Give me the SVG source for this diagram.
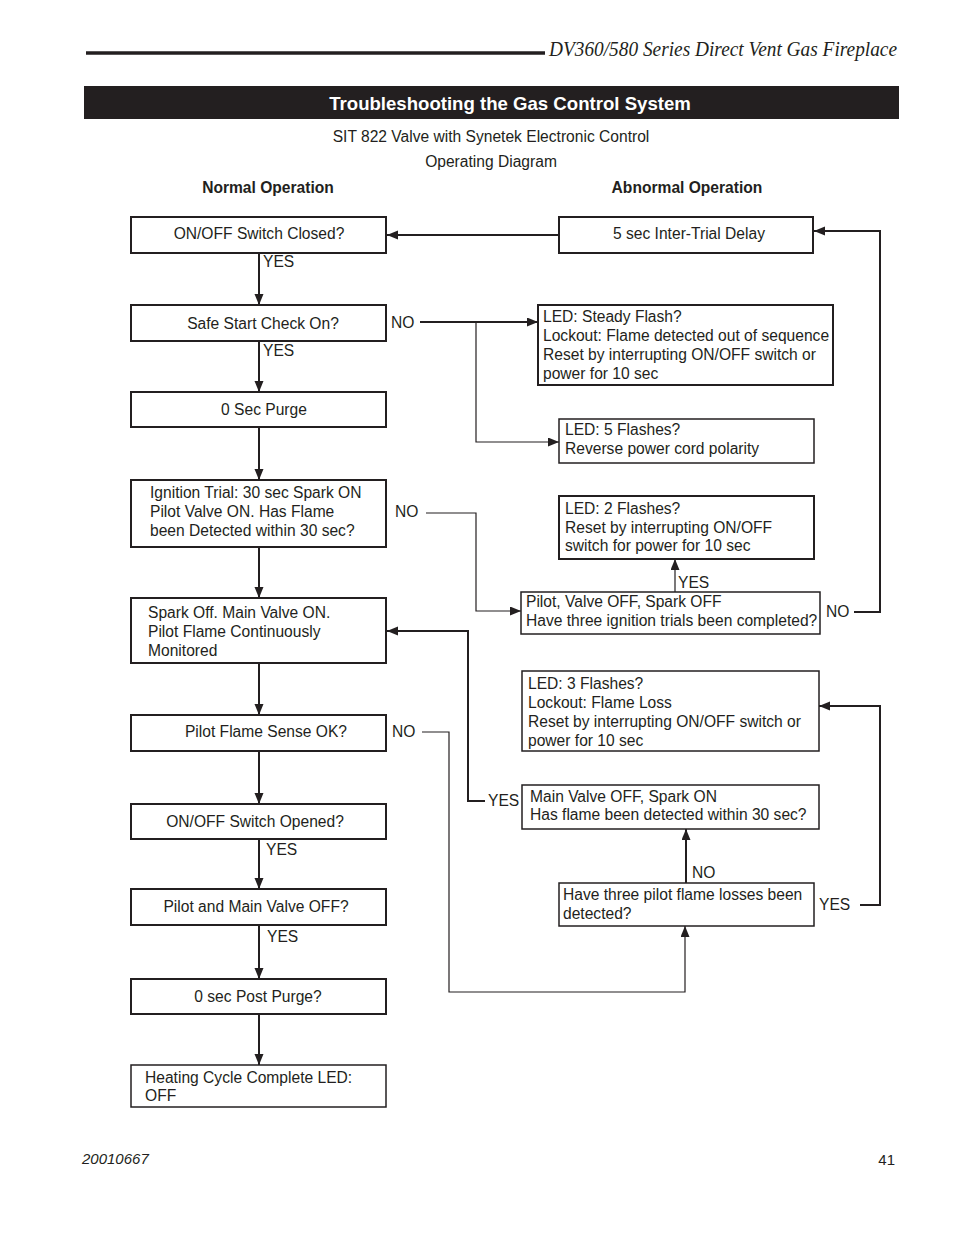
<svg xmlns="http://www.w3.org/2000/svg" width="954" height="1235" viewBox="0 0 954 1235">
<style>
text{font-family:"Liberation Sans",Arial,sans-serif;font-size:15.6px;fill:#231f20}
.c{text-anchor:middle}
.b{font-weight:bold}
.box{fill:#fff;stroke:#231f20;stroke-width:2}
.tb{fill:#fff;stroke:#231f20;stroke-width:1.5}
.ln{fill:none;stroke:#231f20;stroke-width:2}
.tl{fill:none;stroke:#231f20;stroke-width:1.2}
</style>
<defs>
<marker id="ah" markerUnits="userSpaceOnUse" markerWidth="12" markerHeight="10" refX="11" refY="4.5" orient="auto">
<path d="M0,0 L11,4.5 L0,9 Z" fill="#231f20"/>
</marker>
</defs>
<rect width="954" height="1235" fill="#fff"/>
<g id="header">
<line x1="86" y1="53" x2="545" y2="53" stroke="#231f20" stroke-width="3.5"/>
<text x="549" y="56" textLength="348" lengthAdjust="spacingAndGlyphs" style="font-family:'Liberation Serif',serif;font-style:italic;font-size:21px">DV360/580 Series Direct Vent Gas Fireplace</text>
<rect x="84" y="86" width="815" height="33" fill="#231f20"/>
<text x="510" y="110" class="c b" style="fill:#fff;font-size:18.6px">Troubleshooting the Gas Control System</text>
<text x="491" y="142" class="c">SIT 822 Valve with Synetek Electronic Control</text>
<text x="491" y="167" class="c">Operating Diagram</text>
<text x="268" y="193" class="c b">Normal Operation</text>
<text x="687" y="193" class="c b">Abnormal Operation</text>
</g>
<g id="connectors">
<line class="ln" x1="259" y1="253" x2="259" y2="305" marker-end="url(#ah)"/>
<line class="ln" x1="259" y1="341" x2="259" y2="392" marker-end="url(#ah)"/>
<line class="ln" x1="259" y1="427" x2="259" y2="480" marker-end="url(#ah)"/>
<line class="ln" x1="259" y1="547" x2="259" y2="598" marker-end="url(#ah)"/>
<line class="ln" x1="259" y1="663" x2="259" y2="715" marker-end="url(#ah)"/>
<line class="ln" x1="259" y1="751" x2="259" y2="804" marker-end="url(#ah)"/>
<line class="ln" x1="259" y1="839" x2="259" y2="889" marker-end="url(#ah)"/>
<line class="ln" x1="259" y1="925" x2="259" y2="979" marker-end="url(#ah)"/>
<line class="ln" x1="259" y1="1014" x2="259" y2="1065" marker-end="url(#ah)"/>
<line class="ln" x1="559" y1="235" x2="387" y2="235" marker-end="url(#ah)"/>
<line class="ln" x1="420" y1="322" x2="538" y2="322" marker-end="url(#ah)"/>
<polyline class="tl" points="476,322 476,442 559,442" marker-end="url(#ah)"/>
<polyline class="tl" points="426,513 476,513 476,611 521,611" marker-end="url(#ah)"/>
<line class="tl" x1="675" y1="592" x2="675" y2="559" marker-end="url(#ah)"/>
<polyline class="ln" points="854,612 880,612 880,231 814,231" marker-end="url(#ah)"/>
<polyline class="tl" points="422,732 449,732 449,992 685,992 685,926" marker-end="url(#ah)"/>
<line class="ln" x1="686" y1="883" x2="686" y2="829" marker-end="url(#ah)"/>
<polyline class="ln" points="860,905 880,905 880,706 819,706" marker-end="url(#ah)"/>
<polyline class="ln" points="485,801 468,801 468,631 387,631" marker-end="url(#ah)"/>
<text x="263" y="267">YES</text>
<text x="263" y="356">YES</text>
<text x="266" y="855">YES</text>
<text x="267" y="942">YES</text>
<text x="391" y="328">NO</text>
<text x="395" y="517">NO</text>
<text x="392" y="737">NO</text>
<text x="678" y="588">YES</text>
<text x="826" y="617">NO</text>
<text x="692" y="878">NO</text>
<text x="819" y="910">YES</text>
<text x="488" y="806">YES</text>
</g>
<g id="n1"><rect class="box" x="131" y="217" width="255" height="36"/><text x="259" y="239" class="c">ON/OFF Switch Closed?</text></g>
<g id="n2"><rect class="box" x="131" y="305" width="255" height="36"/><text x="263" y="329" class="c">Safe Start Check On?</text></g>
<g id="n3"><rect class="box" x="131" y="392" width="255" height="35"/><text x="264" y="415" class="c">0 Sec Purge</text></g>
<g id="n4"><rect class="box" x="131" y="480" width="255" height="67"/><text x="150" y="498">Ignition Trial: 30 sec Spark ON</text><text x="150" y="517">Pilot Valve ON. Has Flame</text><text x="150" y="536">been Detected within 30 sec?</text></g>
<g id="n5"><rect class="box" x="131" y="598" width="255" height="65"/><text x="148" y="618">Spark Off. Main Valve ON.</text><text x="148" y="637">Pilot Flame Continuously</text><text x="148" y="656">Monitored</text></g>
<g id="n6"><rect class="box" x="131" y="715" width="255" height="36"/><text x="266" y="737" class="c">Pilot Flame Sense OK?</text></g>
<g id="n7"><rect class="box" x="131" y="804" width="255" height="35"/><text x="255" y="827" class="c">ON/OFF Switch Opened?</text></g>
<g id="n8"><rect class="box" x="131" y="889" width="255" height="36"/><text x="256" y="912" class="c">Pilot and Main Valve OFF?</text></g>
<g id="n9"><rect class="box" x="131" y="979" width="255" height="35"/><text x="258" y="1002" class="c">0 sec Post Purge?</text></g>
<g id="n10"><rect class="tb" x="131" y="1065" width="255" height="42"/><text x="145" y="1083">Heating Cycle Complete LED:</text><text x="145" y="1101">OFF</text></g>
<g id="a1"><rect class="box" x="559" y="217" width="254" height="36"/><text x="689" y="239" class="c">5 sec Inter-Trial Delay</text></g>
<g id="a2"><rect class="box" x="538" y="305" width="295" height="80"/><text x="543" y="322">LED: Steady Flash?</text><text x="543" y="341">Lockout: Flame detected out of sequence</text><text x="543" y="360">Reset by interrupting ON/OFF switch or</text><text x="543" y="379">power for 10 sec</text></g>
<g id="a3"><rect class="tb" x="559" y="419" width="255" height="44"/><text x="565" y="435">LED: 5 Flashes?</text><text x="565" y="454">Reverse power cord polarity</text></g>
<g id="a4"><rect class="box" x="559" y="496" width="255" height="63"/><text x="565" y="514">LED: 2 Flashes?</text><text x="565" y="533">Reset by interrupting ON/OFF</text><text x="565" y="551">switch for power for 10 sec</text></g>
<g id="a5"><rect class="tb" x="521" y="592" width="299" height="42"/><text x="526" y="607">Pilot, Valve OFF, Spark OFF</text><text x="526" y="626">Have three ignition trials been completed?</text></g>
<g id="a6"><rect class="tb" x="522" y="671" width="297" height="80"/><text x="528" y="689">LED: 3 Flashes?</text><text x="528" y="708">Lockout: Flame Loss</text><text x="528" y="727">Reset by interrupting ON/OFF switch or</text><text x="528" y="746">power for 10 sec</text></g>
<g id="a7"><rect class="tb" x="522" y="785" width="297" height="44"/><text x="530" y="802">Main Valve OFF, Spark ON</text><text x="530" y="820">Has flame been detected within 30 sec?</text></g>
<g id="a8"><rect class="tb" x="559" y="883" width="255" height="43"/><text x="563" y="900">Have three pilot flame losses been</text><text x="563" y="919">detected?</text></g>
<g id="footer">
<text x="82" y="1164" style="font-style:italic;font-size:15px">20010667</text>
<text x="895" y="1165" text-anchor="end" style="font-size:15px">41</text>
</g>
</svg>
